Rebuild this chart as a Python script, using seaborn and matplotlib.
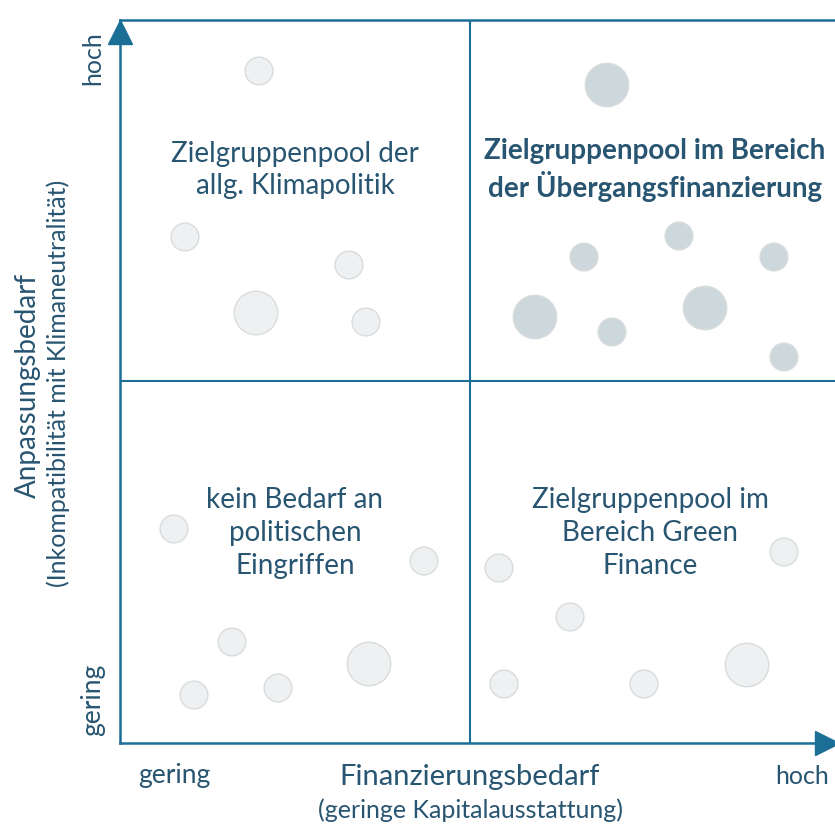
import matplotlib
matplotlib.use("Agg")
import matplotlib.pyplot as plt
import seaborn as sns
import pandas as pd

# circle positions (plot units, origin = lower left corner of the matrix)
pts_x = [139, 65, 229, 136, 246,
         487, 464, 559, 654, 415, 492, 585, 664,
         54, 304, 112, 249, 74, 158,
         379, 664, 450, 627, 384, 524]
pts_y = [672, 506, 478, 430, 421,
         658, 486, 507, 486, 426, 411, 435, 386,
         214, 182, 101, 79, 48, 55,
         175, 191, 126, 78, 59, 59]
pts_size = ["s", "s", "s", "l", "s",
            "l", "s", "s", "s", "l", "s", "l", "s",
            "s", "s", "s", "l", "s", "s",
            "s", "s", "s", "l", "s", "s"]
pts_group = ["hell"] * 5 + ["dunkel"] * 8 + ["hell"] * 12

quad_labels = ["Zielgruppenpool der\nallg. Klimapolitik",
               "Zielgruppenpool im Bereich\nder Übergangsfinanzierung",
               "kein Bedarf an\npolitischen\nEingriffen",
               "Zielgruppenpool im\nBereich Green\nFinance"]

df = pd.DataFrame({"x": pts_x, "y": pts_y, "size": pts_size, "group": pts_group})

sns.set_theme(style="white")
plt.rcParams["font.family"] = ["Lato", "DejaVu Sans"]

line_col = "#1b6e96"
text_col = "#285571"

fig = plt.figure(figsize=(8.35, 8.25), dpi=100)
ax = fig.add_axes([120 / 835, 82 / 825, 715 / 835, 723 / 825])
ax.set_xlim(0, 715)
ax.set_ylim(0, 723)

sns.scatterplot(data=df, x="x", y="y", size="size", sizes={"s": 400, "l": 980},
                hue="group", palette={"hell": "#eef0f1", "dunkel": "#cdd8dc"},
                edgecolor="#d9dcdd", linewidth=1, legend=False, ax=ax, zorder=3)

ax.axvline(350, color=line_col, lw=1.5, zorder=2)
ax.axhline(362, color=line_col, lw=1.5, zorder=2)

for side in ["left", "bottom", "top"]:
    ax.spines[side].set_color(line_col)
    ax.spines[side].set_linewidth(1.8)
ax.spines["right"].set_visible(False)
ax.set_xticks([])
ax.set_yticks([])
ax.set_xlabel("")
ax.set_ylabel("")

# arrow heads
ax.plot([0], [711], marker="^", ms=17, color=line_col, clip_on=False, zorder=5)
ax.plot([707], [0], marker=">", ms=17, color=line_col, clip_on=False, zorder=5)

fs = 20
ax.text(175, 573, quad_labels[0], ha="center", va="center", fontsize=fs,
        color=text_col, linespacing=1.28)
ax.text(535, 573, quad_labels[1], ha="center", va="center", fontsize=fs,
        color=text_col, fontweight="bold", linespacing=1.28)
ax.text(175, 210, quad_labels[2], ha="center", va="center", fontsize=fs,
        color=text_col, linespacing=1.35)
ax.text(530, 210, quad_labels[3], ha="center", va="center", fontsize=fs,
        color=text_col, linespacing=1.35)

# axis annotations
fig.text(174 / 835, 1 - 776 / 825, "gering", ha="center", va="center", fontsize=19, color=text_col)
fig.text(470 / 835, 1 - 777 / 825, "Finanzierungsbedarf", ha="center", va="center", fontsize=21, color=text_col)
fig.text(470 / 835, 1 - 810 / 825, "(geringe Kapitalausstattung)", ha="center", va="center", fontsize=18, color=text_col)
fig.text(802 / 835, 1 - 776 / 825, "hoch", ha="center", va="center", fontsize=18, color=text_col)

fig.text(93 / 835, 1 - 58 / 825, "hoch", ha="center", va="center", rotation=90, fontsize=18, color=text_col)
fig.text(93 / 835, 1 - 700 / 825, "gering", ha="center", va="center", rotation=90, fontsize=19, color=text_col)
fig.text(28 / 835, 1 - 385 / 825, "Anpassungsbedarf", ha="center", va="center", rotation=90, fontsize=20, color=text_col)
fig.text(58 / 835, 1 - 383 / 825, "(Inkompatibilität mit Klimaneutralität)", ha="center", va="center",
         rotation=90, fontsize=18, color=text_col)

fig.savefig("out.png", dpi=100, facecolor="white")
